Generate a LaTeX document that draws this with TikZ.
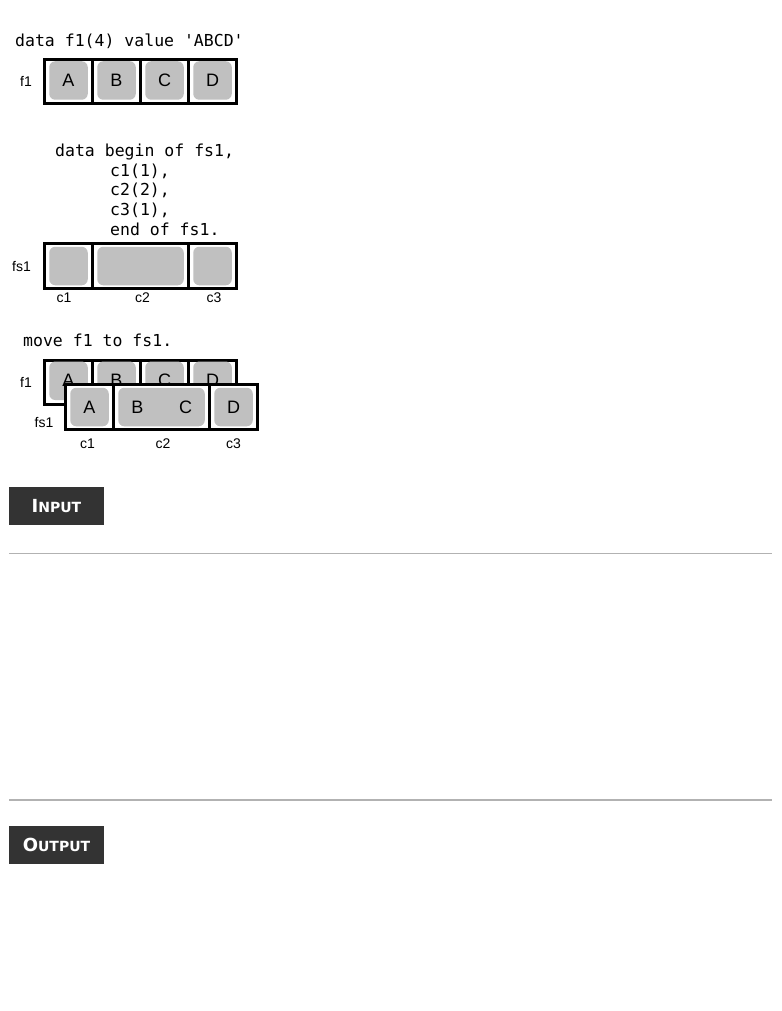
\documentclass[tikz,border=0pt]{standalone}
\usepackage{fontspec}
\setmainfont{Liberation Sans}
\newfontfamily\codefont{DejaVu Sans Mono}
\newfontfamily\tagfont{DejaVu Sans}
\definecolor{cellgray}{RGB}{192,192,192}
\definecolor{tagdark}{RGB}{51,51,51}
\definecolor{rulegray}{RGB}{178,178,178}
\begin{document}
\begin{tikzpicture}[x=1pt,y=-1pt,
  cell/.style={draw=black,line width=3pt,fill=white,inner sep=0pt,minimum width=48pt},
  shade/.style={fill=cellgray,rounded corners=6pt,inner sep=0pt,minimum width=38.5pt,minimum height=38.5pt,
    font=\fontsize{18}{18}\selectfont},
  letter/.style={inner sep=0pt,font=\fontsize{18}{18}\selectfont},
  code/.style={anchor=base west,inner sep=0pt,font=\codefont\fontsize{16.5}{16.5}\selectfont},
  lab/.style={inner sep=0pt,font=\fontsize{14}{14}\selectfont},
  tag/.style={fill=tagdark,text=white,inner sep=0pt,minimum width=95pt,minimum height=38pt,font=\tagfont\bfseries},
  sep/.style={draw=rulegray,line width=1.5pt}
]
\useasboundingbox (0,0) rectangle (781,1011);

% ---------- data f1(4) value 'ABCD'
\node[code] (t1) at (15,46.5) {data f1(4) value 'ABCD'};
\node[lab] (lf1) at (26,81) {f1};
\node[cell,minimum height=44pt] (a1) at (68.5,81.5) {};
\node[cell,minimum height=44pt] (b1) at (116.5,81.5) {};
\node[cell,minimum height=44pt] (c1) at (164.5,81.5) {};
\node[cell,minimum height=44pt] (d1) at (212.5,81.5) {};
\node[shade] (ga1) at ([yshift=1pt]a1.center) {A};
\node[shade] (gb1) at ([yshift=1pt]b1.center) {B};
\node[shade] (gc1) at ([yshift=1pt]c1.center) {C};
\node[shade] (gd1) at ([yshift=1pt]d1.center) {D};

% ---------- data begin of fs1
\node[code] (t2a) at (55,156.5) {data begin of fs1,};
\node[code] (t2b) at (110,176.3) {c1(1),};
\node[code] (t2c) at (110,196) {c2(2),};
\node[code] (t2d) at (110,215.8) {c3(1),};
\node[code] (t2e) at (110,235.5) {end of fs1.};
\node[lab] (lfs1) at (21.5,267) {fs1};
\node[cell,minimum height=45pt] (s1) at (68.5,266) {};
\node[cell,minimum height=45pt,minimum width=96pt] (s2) at (140.5,266) {};
\node[cell,minimum height=45pt] (s3) at (212.5,266) {};
\node[shade] (gs1) at (s1.center) {};
\node[shade,minimum width=86.5pt] (gs2) at (s2.center) {};
\node[shade] (gs3) at (s3.center) {};
\node[lab] (lc1) at (64,298) {c1};
\node[lab] (lc2) at (142.5,298) {c2};
\node[lab] (lc3) at (214,298) {c3};

% ---------- move f1 to fs1
\node[code] (t3) at (23,346) {move f1 to fs1.};
\node[lab] (mf1) at (26,382) {f1};
\node[cell,minimum height=43.5pt] (ma) at (68.5,382.25) {};
\node[cell,minimum height=43.5pt] (mb) at (116.5,382.25) {};
\node[cell,minimum height=43.5pt] (mc) at (164.5,382.25) {};
\node[cell,minimum height=43.5pt] (md) at (212.5,382.25) {};
\node[shade] (gma) at ([yshift=1.5pt]ma.center) {A};
\node[shade] (gmb) at ([yshift=1.5pt]mb.center) {B};
\node[shade] (gmc) at ([yshift=1.5pt]mc.center) {C};
\node[shade] (gmd) at ([yshift=1.5pt]md.center) {D};

\node[lab] (mfs1) at (44,422) {fs1};
\node[cell,minimum height=45pt] (n1) at (89.5,407) {};
\node[cell,minimum height=45pt,minimum width=96pt] (n2) at (161.5,407) {};
\node[cell,minimum height=45pt] (n3) at (233.5,407) {};
\node[shade] (gn1) at (n1.center) {A};
\node[shade,minimum width=86.5pt] (gn2) at (n2.center) {};
\node[letter] (nb) at (137.5,407) {B};
\node[letter] (nc) at (185.5,407) {C};
\node[shade] (gn3) at (n3.center) {D};
\node[lab] (mc1) at (87.5,444) {c1};
\node[lab] (mc2) at (163,444) {c2};
\node[lab] (mc3) at (233.5,444) {c3};

% ---------- INPUT / OUTPUT
\node[tag] (input) at (56.5,506) {{\fontsize{18}{18}\selectfont I}{\fontsize{14}{14}\selectfont NPUT}};
\coordinate (r1l) at (9,553.5);
\coordinate (r1r) at (772,553.5);
\draw[sep] (r1l) -- (r1r);
\coordinate (r2l) at (9,800);
\coordinate (r2r) at (772,800);
\draw[sep] (r2l) -- (r2r);
\node[tag] (output) at (56.5,845) {{\fontsize{18}{18}\selectfont O}{\fontsize{14}{14}\selectfont UTPUT}};
\end{tikzpicture}
\end{document}
